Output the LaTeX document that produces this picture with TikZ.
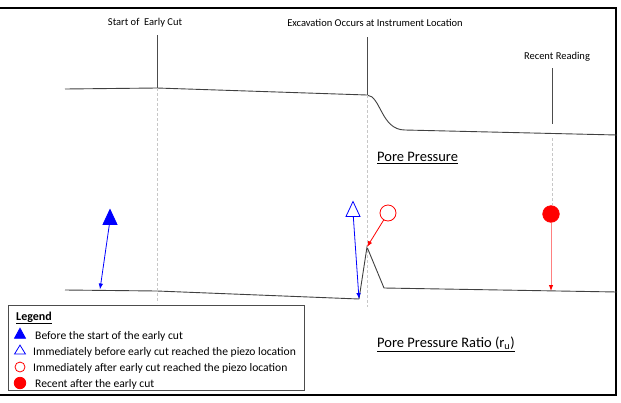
\documentclass[tikz,border=0pt]{standalone}
\usepackage{fontspec}
\setmainfont{Carlito}
\usetikzlibrary{arrows.meta,shapes.geometric}
\begin{document}
\begin{tikzpicture}[%
x=1pt, y=-1pt, >={Latex[length=6pt,width=4.5pt]},
curve/.style={draw=black!75, line width=0.9pt},
guide/.style={draw=black!22, densely dashed, line width=0.7pt},
tick/.style={draw=black!70, line width=0.9pt},
lbl/.style={font=\fontsize{10.5}{12}\selectfont, inner sep=0pt},
leg/.style={font=\fontsize{11.6}{14}\selectfont, inner sep=0pt, anchor=west},
tri/.style={isosceles triangle, isosceles triangle apex angle=50, isosceles triangle stretches, shape border rotate=90, inner sep=0pt, draw=blue, line width=0.8pt},
circ/.style={shape=circle, inner sep=0pt, draw=red, line width=0.8pt}]%Define the arrow type and marker styles
\useasboundingbox (0,0) rectangle (621,402);
\draw[line width=2.2pt] (0,8) -- (616,8) -- (616,395) -- (0,395); %frame
% top labels and ticks
\node[lbl] (start) at (145,23) {Start of\ \ Early Cut};
\node[lbl] (excav) at (375,23) {Excavation Occurs at Instrument Location};
\node[lbl] (recent) at (557,57) {Recent Reading};
\coordinate (tA) at (157,35);
\coordinate (tB) at (367,37);
\coordinate (tC) at (552,68);
% pore pressure curve
\coordinate (uA) at (157,88);
\coordinate (uB) at (367,95);
\coordinate (uC) at (552,124);
\draw[curve] (65,89) -- (uA) -- (uB) .. controls (381,96) and (381,130) .. (405,130) -- (617,135);
\draw[tick] (tA) -- (uA);
\draw[tick] (tB) -- (uB);
\draw[tick] (tC) -- (uC);
% pore pressure ratio curve
\coordinate (rA) at (100,289.5);
\coordinate (rB) at (157,291);
\coordinate (rC) at (359,299);
\coordinate (rD) at (367,247);
\coordinate (rE) at (384,288);
\coordinate (rF) at (551,291);
\draw[curve] (65,290) -- (rB) -- (rC) -- (rD) -- (rE) -- (617,292);
\draw[guide] (uA) -- (157,303);
\draw[guide] (uB) -- (367,307);
\draw[guide] (552,138) -- (552,205);
\node[font=\fontsize{14.5}{16}\selectfont, anchor=west, inner sep=0pt] (pp) at (377,158) {\underline{Pore Pressure}};
\node[font=\fontsize{14.5}{16}\selectfont, anchor=west, inner sep=0pt] (ppr) at (377,344) {\underline{Pore Pressure Ratio (r\textsubscript{u})}};
% readings
\node[tri, fill=blue, minimum width=14pt, minimum height=15pt] (trA) at (110,220) {};
\node[tri, fill=white, minimum width=14pt, minimum height=15pt] (trB) at (353,212) {};
\node[circ, fill=white, minimum size=16pt] (ciA) at (388,213) {};
\node[circ, fill=red, minimum size=16.5pt] (ciB) at (551,214) {};
\draw[->, blue, line width=0.8pt] (trA) -- (rA);
\draw[->, blue, line width=0.8pt] (trB) -- (rC);
\draw[->, red, line width=0.8pt] (ciA) -- (rD);
\draw[-{Latex[red,length=6pt,width=4.5pt]}, red!50, line width=0.9pt] (ciB) -- (rF);
% legend
\node[draw=black!70, line width=0.8pt, minimum width=296pt, minimum height=85pt, anchor=north west] (legend) at (8,305) {};
\node[leg, font=\fontsize{12}{14}\selectfont\bfseries] (legt) at (16,318) {\underline{Legend}};
\node[tri, fill=blue, minimum width=11pt, minimum height=10pt] (lA) at (20,335) {};
\node[tri, fill=white, minimum width=11pt, minimum height=9pt] (lB) at (20,351) {};
\node[circ, fill=white, minimum size=10pt] (lC) at (20,367) {};
\node[circ, fill=red, minimum size=11.5pt] (lD) at (20,383) {};
\node[leg] (tA) at (35,336) {Before the start of the early cut};
\node[leg] (tB) at (33,352) {Immediately before early cut reached the piezo location};
\node[leg] (tC) at (33,368) {Immediately after early cut reached the piezo location};
\node[leg] (tD) at (35,384) {Recent after the early cut};
\end{tikzpicture}
\end{document}
